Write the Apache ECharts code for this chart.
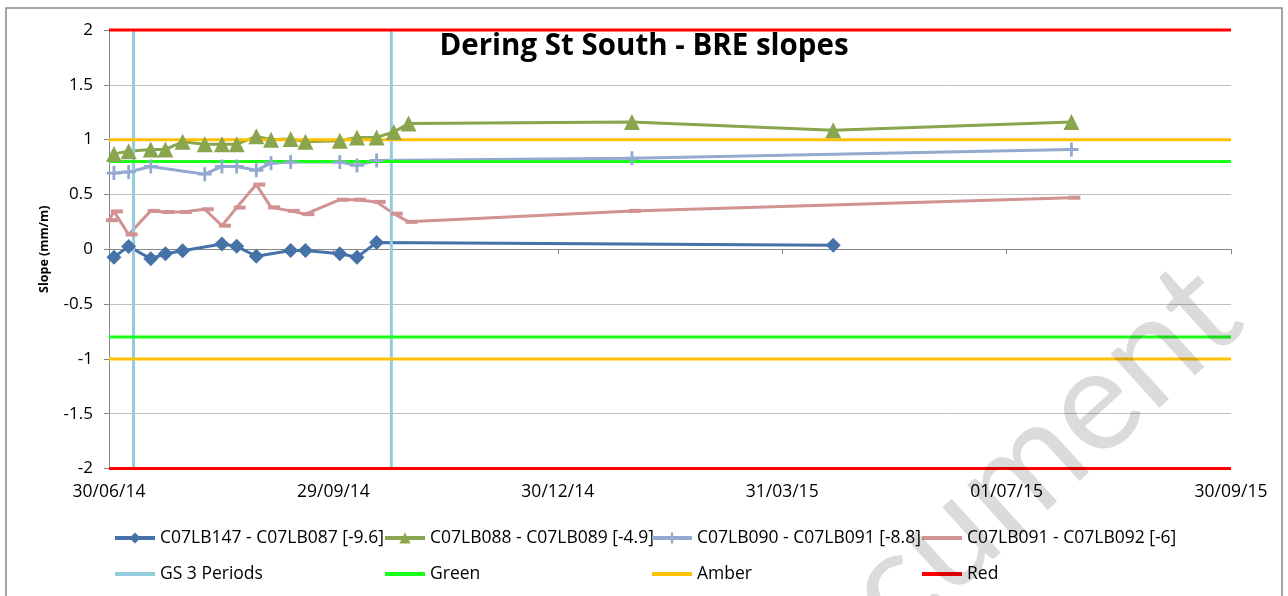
<!DOCTYPE html>
<html>
<head>
<meta charset="utf-8">
<title>Dering St South - BRE slopes</title>
<script src="https://cdn.jsdelivr.net/npm/echarts@6/dist/echarts.min.js"></script>
<style>
  html, body { margin: 0; padding: 0; background: #ffffff; }
  #chart { width: 1288px; height: 596px; }
</style>
</head>
<body>
<div id="chart"></div>
<script>
// ---- Data -------------------------------------------------------------
const xTickLabels = ['30/06/14', '29/09/14', '30/12/14', '31/03/15', '01/07/15', '30/09/15'];

const lb147Dates  = ['02/07/14','08/07/14','17/07/14','23/07/14','30/07/14','15/08/14','21/08/14','29/08/14','12/09/14','18/09/14','02/10/14','09/10/14','17/10/14','21/04/15'];
const lb147Values = [-0.072, 0.026, -0.087, -0.041, -0.014, 0.047, 0.027, -0.064, -0.011, -0.012, -0.041, -0.072, 0.062, 0.037];

const lb088Dates  = ['02/07/14','08/07/14','17/07/14','23/07/14','30/07/14','08/08/14','15/08/14','21/08/14','29/08/14','04/09/14','12/09/14','18/09/14','02/10/14','09/10/14','17/10/14','24/10/14','30/10/14','29/01/15','21/04/15','27/07/15'];
const lb088Values = [0.87, 0.895, 0.91, 0.91, 0.98, 0.957, 0.958, 0.958, 1.03, 1.0, 1.005, 0.98, 0.99, 1.02, 1.02, 1.07, 1.146, 1.16, 1.085, 1.16];

const lb090Dates  = ['02/07/14','08/07/14','17/07/14','08/08/14','15/08/14','21/08/14','29/08/14','04/09/14','12/09/14','02/10/14','09/10/14','17/10/14','29/01/15','27/07/15'];
const lb090Values = [0.695, 0.705, 0.755, 0.685, 0.755, 0.755, 0.72, 0.785, 0.795, 0.795, 0.765, 0.81, 0.83, 0.91];

const lb091Dates  = ['30/06/14','02/07/14','08/07/14','17/07/14','23/07/14','30/07/14','08/08/14','15/08/14','21/08/14','29/08/14','04/09/14','12/09/14','18/09/14','02/10/14','09/10/14','17/10/14','24/10/14','30/10/14','29/01/15','27/07/15'];
const lb091Values = [0.265, 0.345, 0.135, 0.35, 0.34, 0.34, 0.365, 0.215, 0.38, 0.59, 0.382, 0.35, 0.32, 0.452, 0.452, 0.432, 0.325, 0.25, 0.35, 0.47];

const gsPeriodDates = ['10/07/14', '23/10/14'];

const greenLimit = 0.8;
const amberLimit = 1;
const redLimit = 2;

// ---- Helpers ----------------------------------------------------------
const startUTC = Date.UTC(2014, 5, 30);
function dayOf(s) {
  const [d, m, y] = s.split('/').map(Number);
  return Math.round((Date.UTC(2000 + y, m - 1, d) - startUTC) / 86400000);
}
function pairs(dates, values) {
  return dates.map((d, i) => [dayOf(d), values[i]]);
}

const xMin = dayOf(xTickLabels[0]);
const xMax = dayOf(xTickLabels[xTickLabels.length - 1]);
const xStep = (xMax - xMin) / (xTickLabels.length - 1);

const FONT = 'Open Sans';
const MARK_FONT = 'Lato';

const plusPath = 'path://M4,0H6V10H4Z M0,4H10V6H0Z';
const dashPath = 'path://M0,0H10V3H0Z';

function dataSeries(name, color, data, symbol, symbolSize, extra) {
  return Object.assign({
    name, type: 'line', data, color,
    symbol, symbolSize,
    showAllSymbol: true,
    lineStyle: { color, width: 3 },
    itemStyle: { color },
    emphasis: { disabled: true },
    animation: false
  }, extra || {});
}

function hLine(name, color, value) {
  return {
    name, type: 'line', color,
    data: [[xMin, value], [xMax, value]],
    symbol: 'none', clip: false,
    lineStyle: { color, width: 3 },
    itemStyle: { color },
    emphasis: { disabled: true },
    animation: false
  };
}

function vLine(name, color, day) {
  return {
    name, type: 'line', color,
    data: [[day, -redLimit], [day, redLimit]],
    symbol: 'none', clip: false,
    lineStyle: { color, width: 3 },
    itemStyle: { color },
    emphasis: { disabled: true },
    animation: false
  };
}

const S1 = 'C07LB147 - C07LB087 [-9.6]';
const S2 = 'C07LB088 - C07LB089 [-4.9]';
const S3 = 'C07LB090 - C07LB091 [-8.8]';
const S4 = 'C07LB091 - C07LB092 [-6]';

const series = [
  dataSeries(S1, '#4572A7', pairs(lb147Dates, lb147Values), 'diamond', 15),
  dataSeries(S2, '#89A54E', pairs(lb088Dates, lb088Values), 'triangle', 16),
  dataSeries(S3, '#93A9CF', pairs(lb090Dates, lb090Values), plusPath, 14),
  dataSeries(S4, '#D19392', pairs(lb091Dates, lb091Values), dashPath, [12, 4], { symbolOffset: [3, 0] }),
  ...gsPeriodDates.map(d => vLine('GS 3 Periods', '#93CDDD', dayOf(d))),
  hLine('Green', '#1AFF1A', greenLimit),
  hLine('Green', '#1AFF1A', -greenLimit),
  hLine('Amber', '#FFC000', amberLimit),
  hLine('Amber', '#FFC000', -amberLimit),
  hLine('Red', '#FF0000', redLimit),
  hLine('Red', '#FF0000', -redLimit)
];

// Legend laid out as a 4-column grid, one small legend per cell;
// entries drawn as a plain line hide their marker.
const legendColumns = [108, 378, 645, 915];
const legendRows = [524, 560];
const legendCells = [
  [S1, 0, 0, false], [S2, 1, 0, false], [S3, 2, 0, false], [S4, 3, 0, true],
  ['GS 3 Periods', 0, 1, true], ['Green', 1, 1, true], ['Amber', 2, 1, true], ['Red', 3, 1, true]
];
const legends = legendCells.map(([name, col, row, lineOnly]) => {
  const block = {
    left: legendColumns[col], top: legendRows[row],
    itemWidth: 40, itemHeight: 14, itemGap: 5,
    data: [name],
    lineStyle: { width: 4 },
    textStyle: { fontFamily: FONT, fontSize: 17.5, color: '#000000' },
    selectedMode: false
  };
  if (lineOnly) block.itemStyle = { opacity: 0 };
  return block;
});

const chart = echarts.init(document.getElementById('chart'), null, { renderer: 'canvas' });

chart.setOption({
  backgroundColor: '#ffffff',
  animation: false,
  title: {
    text: 'Dering St South - BRE slopes',
    left: 'center',
    top: 27,
    textStyle: { fontFamily: FONT, fontSize: 29.5, fontWeight: 'bold', color: '#000000' }
  },
  grid: { left: 109, right: 57, top: 30, bottom: 127.5 },
  xAxis: {
    type: 'value',
    min: xMin, max: xMax, interval: xStep,
    axisLine: { show: true, lineStyle: { color: '#868686', width: 1 } },
    axisTick: { show: true, length: 5, lineStyle: { color: '#868686' } },
    splitLine: { show: false },
    axisLabel: {
      fontFamily: FONT, fontSize: 17.5, color: '#000000', margin: 15,
      showMaxLabel: true, showMinLabel: true,
      formatter: v => xTickLabels[Math.round((v - xMin) / xStep)]
    }
  },
  yAxis: {
    type: 'value',
    min: -redLimit, max: redLimit, interval: 0.5,
    name: 'Slope (mm/m)',
    nameLocation: 'middle',
    nameRotate: 90,
    nameGap: 58,
    nameTextStyle: { fontFamily: FONT, fontSize: 12.5, fontWeight: 'bold', color: '#000000' },
    axisLine: { show: true, lineStyle: { color: '#868686', width: 1 } },
    axisTick: { show: true, length: 5, lineStyle: { color: '#868686' } },
    splitLine: { show: true, lineStyle: { color: '#BFBFBF', width: 1 } },
    axisLabel: { fontFamily: FONT, fontSize: 17, color: '#000000', margin: 16 }
  },
  legend: legends,
  graphic: [
    {
      type: 'rect', silent: true, z: -1,
      shape: { x: 6, y: 8, width: 1276, height: 600 },
      style: { fill: 'none', stroke: '#868686', lineWidth: 1.5 }
    },
    {
      type: 'text', silent: true, z: 100,
      x: 972, y: 516, rotation: 0.74,
      style: {
        text: 'Document', fontFamily: MARK_FONT, fontSize: 144,
        fill: 'rgba(0,0,0,0.14)', align: 'center', verticalAlign: 'middle'
      }
    }
  ],
  series
});
</script>
</body>
</html>
